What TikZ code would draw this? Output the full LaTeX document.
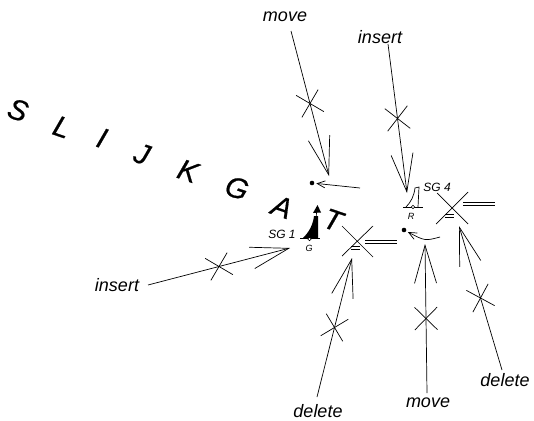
\documentclass[tikz,border=0pt]{standalone}
\usepackage{fontspec}
\setmainfont{Liberation Sans}
\newfontfamily\bigletters[FakeBold=0.6]{Liberation Sans}
\usetikzlibrary{arrows.meta,shapes.misc}
\begin{document}
\begin{tikzpicture}[x=1pt,y=-1pt, line width=0.7pt,
  lbl/.style={font=\itshape\fontsize{18}{18}\selectfont, inner sep=0pt},
  big/.style={font=\bigletters\itshape\fontsize{29}{29}\selectfont, inner sep=0pt, rotate=-19},
  sglbl/.style={font=\itshape\fontsize{12}{12}\selectfont, inner sep=0pt},
  tinylbl/.style={font=\itshape\fontsize{9}{9}\selectfont, inner sep=0pt},
  bigarrow/.style={-{Straight Barb[length=38pt,width=22pt]}},
  xmark/.style={cross out, draw, minimum size=22pt, inner sep=0pt, sloped},
  smallarrow/.style={-{Straight Barb[length=8pt,width=7pt]}},
  dot/.style={circle, fill, inner sep=0pt, minimum size=4.6pt, outer sep=2pt},
]
\useasboundingbox (0,0) rectangle (534,420);

% big lettering
\node[big] (l1) at (18,110) {S};
\node[big] (l2) at (62,127) {L};
\node[big] (l3) at (102,138) {I};
\node[big] (l4) at (142,154) {J};
\node[big] (l5) at (188,171) {K};
\node[big] (l6) at (237,188) {G};
\node[big] (l7) at (282,207) {A};
\node[big] (l8) at (333,220) {T};

% labels
\node[lbl] (mvT) at (285,17) {move};
\node[lbl] (insT) at (380,37) {insert};
\node[lbl] (insL) at (117,285) {insert};
\node[lbl] (delB) at (318,411) {delete};
\node[lbl] (mvB) at (428,403) {move};
\node[lbl] (delR) at (505,380) {delete};

% arrow ends
\coordinate (s1) at (291,31);   \coordinate (t1) at (329,176);
\coordinate (s2) at (388,44);   \coordinate (t2) at (407,193);
\coordinate (s3) at (148,285);  \coordinate (t3) at (290,248);
\coordinate (s4) at (317,397);  \coordinate (t4) at (352,258);
\coordinate (s5) at (427,393);  \coordinate (t5) at (425,244);
\coordinate (s6) at (502,370);  \coordinate (t6) at (459,226);

\draw[bigarrow] (s1) -- node[xmark]{} (t1);
\draw[bigarrow] (s2) -- node[xmark]{} (t2);
\draw[bigarrow] (s3) -- node[xmark]{} (t3);
\draw[bigarrow] (s4) -- node[xmark]{} (t4);
\draw[bigarrow] (s5) -- node[xmark]{} (t5);
\draw[bigarrow] (s6) -- node[xmark]{} (t6);

% dots and small arrows
\node[dot] (d1) at (312,183) {};
\node[dot] (d2) at (404,230) {};
\coordinate (a1) at (360,188);
\coordinate (a2) at (440,237);
\draw[smallarrow] (a1) -- (d1);
\draw[smallarrow] (a2) .. controls (425,241) .. (d2);

% beacon SG 1 (black)
\fill (303,238) .. controls (309,232) and (313,225) .. (314,216) -- (318,216) -- (318,238) -- cycle;
\draw (316.3,217) -- (316.5,211);
\fill (313,213) -- (317.5,205) -- (321,212.5) -- cycle;
\draw (300,238.5) -- (320,238.5);
\draw[fill=white, line width=0.6pt] (309.5,239) circle (1.7);
\node[sglbl] (sg1) at (282,234) {SG 1};
\node[tinylbl] (g) at (309,248) {G};

% beacon SG 4 (outline)
\draw (406,207) .. controls (411,202) and (414,196) .. (415,188) -- (419,187) -- (418,207);
\draw (403,207) -- (423,207);
\draw[fill=white, line width=0.6pt] (413,207) circle (1.7);
\node[sglbl] (sg4) at (437,187) {SG 4};
\node[tinylbl] (r) at (411,216) {R};

% marks with double lines
\draw (342,226) -- (373,257) (373,226) -- (342,256);
\draw (365,240) -- (397,240) (365,243) -- (397,243);
\draw (351,246.7) -- (360,246.7) (351,249.4) -- (360,249.4);

\draw (437,193) -- (468,224) (468,192) -- (436,224);
\draw (463,202) -- (495,202) (463,205) -- (495,205);
\draw (445,214.5) -- (454,214.5) (445,217.2) -- (454,217.2);
\end{tikzpicture}
\end{document}
